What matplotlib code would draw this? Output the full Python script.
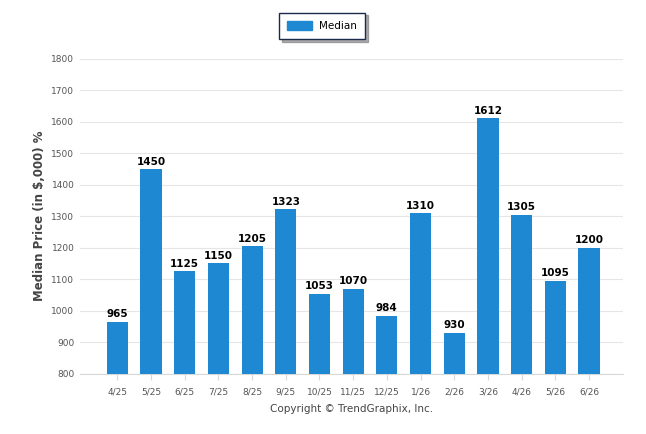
import matplotlib
matplotlib.use("Agg")
import matplotlib.pyplot as plt
from matplotlib.patches import Patch

categories = ["4/25", "5/25", "6/25", "7/25", "8/25", "9/25", "10/25", "11/25",
              "12/25", "1/26", "2/26", "3/26", "4/26", "5/26", "6/26"]
median = [965, 1450, 1125, 1150, 1205, 1323, 1053, 1070, 984, 1310, 930, 1612, 1305, 1095, 1200]
yticks = [800, 900, 1000, 1100, 1200, 1300, 1400, 1500, 1600, 1700, 1800]

bar_color = "#1E88D3"
plt.rcParams['font.family'] = ['DejaVu Sans']

fig = plt.figure(figsize=(6.46, 4.34), dpi=100)
ax = fig.add_axes([80/646, 1 - 373.5/434, 543/646, (373.5 - 59)/434])

x = list(range(len(categories)))
ax.bar(x, [v - 800 for v in median], bottom=800, width=0.63, color=bar_color, zorder=3)
for xi, v in zip(x, median):
    ax.text(xi, v + 8, str(v), ha="center", va="bottom", fontsize=7.5,
            fontweight="bold", color="black", zorder=4)

ax.set_xlim(-1.11, 15.01)
ax.set_ylim(800, 1800)
ax.set_yticks(yticks)
ax.set_yticklabels([str(t) for t in yticks], fontsize=6.5, color="#555555")
ax.set_xticks(x)
ax.set_xticklabels(categories, fontsize=6.5, color="#555555")
ax.grid(axis="y", color="#e6e6e6", linewidth=0.8, zorder=0)
for s in ["top", "right", "left"]:
    ax.spines[s].set_visible(False)
ax.spines["bottom"].set_color("#d8d8d8")
ax.tick_params(axis="y", length=0, pad=4)
ax.tick_params(axis="x", length=4, color="#d8d8d8", pad=6)
ax.set_ylabel("Median Price (in $,000) %", fontsize=8.5, fontweight="bold",
              color="#444444", labelpad=4)

leg = fig.legend(handles=[Patch(color=bar_color, label="Median")],
                 loc="center", bbox_to_anchor=(322/646, 1 - 26/434),
                 frameon=True, fancybox=False,
                 shadow={'ox': 2, 'oy': -2, 'color': '#777777', 'alpha': 0.6},
                 fontsize=7.5,
                 handlelength=2.4, handleheight=0.9, borderpad=0.8, handletextpad=0.6,
                 borderaxespad=0)
leg.get_frame().set_edgecolor("#1a2a4a")
leg.get_frame().set_linewidth(1.0)

fig.text(352/646, 1 - 409/434, "Copyright \u00a9 TrendGraphix, Inc.", ha="center", va="center",
         fontsize=7.5, color="#444444")

fig.savefig("out.png", dpi=100)
